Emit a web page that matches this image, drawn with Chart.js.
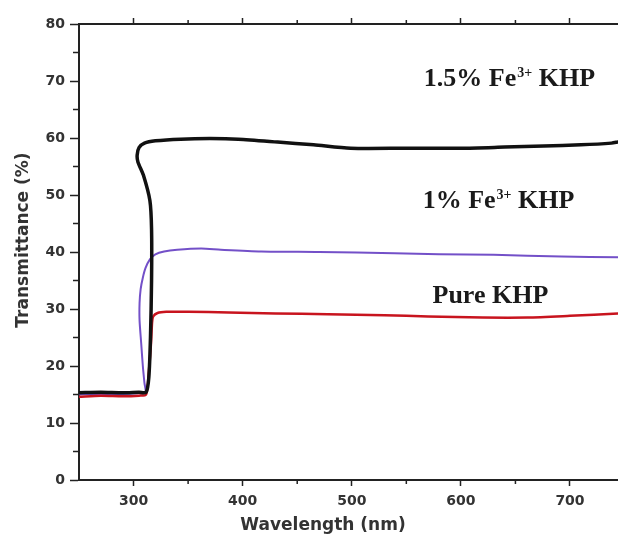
<!DOCTYPE html>
<html>
<head>
<meta charset="utf-8">
<script src="https://cdn.jsdelivr.net/npm/chart.js@4.4.1/dist/chart.umd.min.js"></script>
<style>
  html, body { margin: 0; padding: 0; background: #fff; }
  #wrap { width: 618px; height: 536px; position: relative; }
</style>
</head>
<body>
<div id="wrap"><canvas id="myChart"></canvas></div>
<script>
// 1.5% Fe3+ KHP (black)
const blackWave = [250, 270, 290, 305, 311.5, 314, 315.5, 316.5, 316.5, 315, 309, 304, 303.3, 305, 310, 320, 343, 370, 396, 432, 465, 499, 550, 600, 640, 676, 710, 738, 744];
const blackT = [15.3, 15.4, 15.3, 15.4, 15.4, 18, 25, 35, 44, 49, 53.5, 55.8, 57, 58.3, 59.1, 59.5, 59.8, 59.9, 59.8, 59.3, 58.8, 58.2, 58.2, 58.2, 58.4, 58.6, 58.8, 59.1, 59.3];

// 1% Fe3+ KHP (purple)
const purpleWave = [250, 270, 290, 305, 311, 310, 308.5, 307, 305.5, 305.5, 306.5, 308.5, 311, 315, 320, 328, 340, 362, 380, 417, 470, 539, 580, 630, 692, 744];
const purpleT = [15.0, 15.1, 15.1, 15.2, 15.3, 17, 20, 24, 28, 31, 33.5, 35.5, 37.2, 38.7, 39.6, 40.1, 40.4, 40.6, 40.4, 40.1, 40.0, 39.8, 39.6, 39.5, 39.2, 39.1];

// Pure KHP (red)
const redWave = [250, 270, 290, 305, 311.5, 314, 316, 317, 318, 322, 330, 350, 387, 430, 478, 530, 570, 620, 661, 700, 744];
const redT = [14.6, 14.8, 14.7, 14.8, 15.0, 19, 24, 27.7, 28.7, 29.3, 29.5, 29.5, 29.4, 29.2, 29.1, 28.9, 28.7, 28.5, 28.5, 28.8, 29.2];

const xTickValues = [300, 400, 500, 600, 700];
const xMinorValues = [350, 450, 550, 650];
const yMinorValues = [5, 15, 25, 35, 45, 55, 65, 75];

// in-plot labels: [text, superscript, tail]
const noteLabels = [['1.5% Fe', '3+', ' KHP'], ['1% Fe', '3+', ' KHP'], ['Pure KHP', '', '']];
const noteWave = [566, 565, 574];
const noteT = [70.5, 49.1, 32.5];

const xTitle = 'Wavelength (nm)';
const yTitle = 'Transmittance (%)';

const tickFont = { family: 'DejaVu Sans', size: 14, weight: 'bold' };
const axisColor = '#222';

function toPoints(xs, ys) {
  return xs.map((x, i) => ({ x: x, y: ys[i] }));
}

function setXTicks(scale) {
  scale.ticks = xTickValues.map((v) => ({ value: v }));
}

const minorTicks = {
  id: 'minorTicks',
  afterDraw(chart) {
    const { ctx, chartArea: a, scales } = chart;
    ctx.save();
    ctx.strokeStyle = axisColor;
    ctx.lineWidth = 1.5;
    ctx.beginPath();
    xMinorValues.forEach((v) => {
      const px = scales.x.getPixelForValue(v);
      ctx.moveTo(px, a.bottom);
      ctx.lineTo(px, a.bottom + 4);
      ctx.moveTo(px, a.top);
      ctx.lineTo(px, a.top - 4);
    });
    yMinorValues.forEach((v) => {
      const py = scales.y.getPixelForValue(v);
      ctx.moveTo(a.left, py);
      ctx.lineTo(a.left - 6, py);
    });
    ctx.stroke();
    ctx.restore();
  }
};

const textLayer = {
  id: 'textLayer',
  afterDraw(chart) {
    const { ctx, scales } = chart;
    ctx.save();
    ctx.fillStyle = '#1a1a1a';
    noteLabels.forEach((parts, i) => {
      let px = scales.x.getPixelForValue(noteWave[i]);
      const base = scales.y.getPixelForValue(noteT[i]) + 8;
      ctx.textBaseline = 'alphabetic';
      ctx.textAlign = 'left';
      ctx.font = 'bold 26px "Liberation Serif"';
      ctx.fillText(parts[0], px, base);
      px += ctx.measureText(parts[0]).width;
      if (parts[1]) {
        ctx.font = 'bold 14px "Liberation Serif"';
        ctx.fillText(parts[1], px + 1, base - 9);
        px += ctx.measureText(parts[1]).width + 1;
        ctx.font = 'bold 26px "Liberation Serif"';
        ctx.fillText(parts[2], px, base);
      }
    });

    ctx.fillStyle = '#333';
    ctx.font = 'bold 17px "DejaVu Sans"';
    ctx.textAlign = 'center';
    ctx.textBaseline = 'middle';
    ctx.fillText(xTitle, 323, 526);
    ctx.translate(24, 240);
    ctx.rotate(-Math.PI / 2);
    ctx.fillText(yTitle, 0, 0);
    ctx.restore();
  }
};

const ctx = document.getElementById('myChart').getContext('2d');
new Chart(ctx, {
  type: 'line',
  data: {
    datasets: [
      { label: '1.5% Fe3+ KHP', data: toPoints(blackWave, blackT), borderColor: '#111', borderWidth: 3.5 },
      { label: 'Pure KHP', data: toPoints(redWave, redT), borderColor: '#c8141e', borderWidth: 2.5 },
      { label: '1% Fe3+ KHP', data: toPoints(purpleWave, purpleT), borderColor: '#7350c8', borderWidth: 2 }
    ]
  },
  options: {
    responsive: true,
    maintainAspectRatio: false,
    animation: false,
    layout: { padding: 0, autoPadding: false },
    elements: {
      point: { radius: 0 },
      line: { tension: 0.25, fill: false, borderCapStyle: 'round', borderJoinStyle: 'round' }
    },
    plugins: { legend: { display: false }, tooltip: { enabled: false } },
    scales: {
      x: {
        type: 'linear',
        position: 'bottom',
        min: 250,
        max: 744,
        ticks: { font: tickFont, color: '#333', padding: 7, maxRotation: 0 },
        grid: { drawOnChartArea: false, tickLength: 6, color: axisColor, tickWidth: 1.5 },
        border: { color: axisColor, width: 2 },
        afterBuildTicks: setXTicks,
        afterFit: (s) => { s.height = 56; }
      },
      x2: {
        type: 'linear',
        position: 'top',
        min: 250,
        max: 744,
        ticks: { callback: () => '', padding: 0 },
        grid: { drawOnChartArea: false, tickLength: 6, color: axisColor, tickWidth: 1.5 },
        border: { color: axisColor, width: 2 },
        afterBuildTicks: setXTicks,
        afterFit: (s) => { s.height = 24; }
      },
      y: {
        min: 0,
        max: 80,
        ticks: { stepSize: 10, font: tickFont, color: '#333', padding: 5 },
        grid: { drawOnChartArea: false, tickLength: 9, color: axisColor, tickWidth: 1.5 },
        border: { color: axisColor, width: 2 },
        afterFit: (s) => { s.width = 79; }
      }
    }
  },
  plugins: [minorTicks, textLayer]
});
</script>
</body>
</html>
